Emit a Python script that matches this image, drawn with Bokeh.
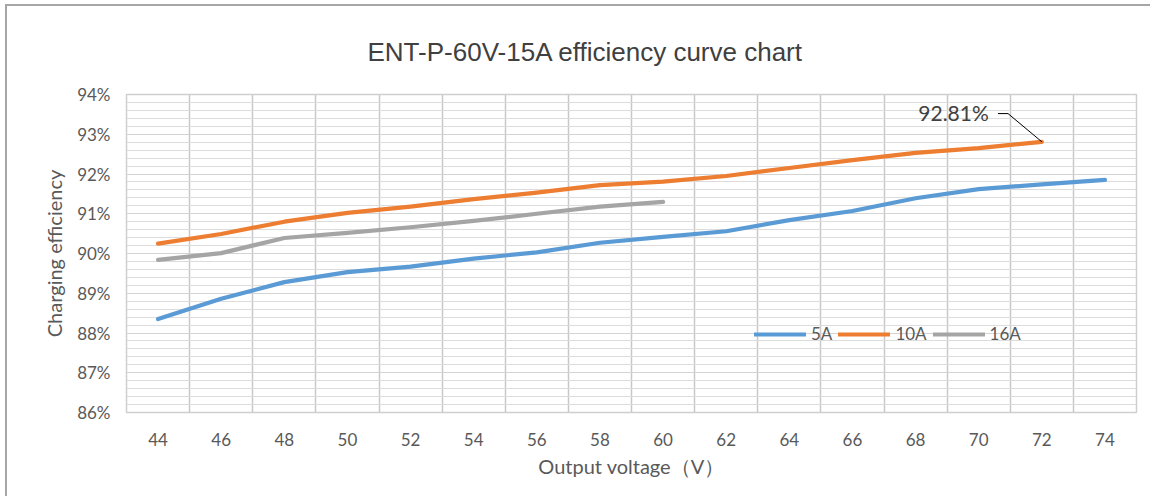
import numpy as np
from bokeh.plotting import figure
from bokeh.models import FixedTicker, Legend, LegendItem, Label, Range1d
from bokeh.embed import file_html
from bokeh.resources import INLINE

# ---------------- data ----------------
volts_5A = [44, 46, 48, 50, 52, 54, 56, 58, 60, 62, 64, 66, 68, 70, 72, 74]
eff_5A = [88.35, 88.86, 89.28, 89.53, 89.67, 89.87, 90.03, 90.27, 90.42, 90.56,
          90.84, 91.07, 91.39, 91.62, 91.74, 91.85]
volts_10A = [44, 46, 48, 50, 52, 54, 56, 58, 60, 62, 64, 66, 68, 70, 72]
eff_10A = [90.25, 90.49, 90.80, 91.02, 91.18, 91.37, 91.53, 91.72, 91.81, 91.95,
           92.15, 92.35, 92.53, 92.65, 92.81]
volts_16A = [44, 46, 48, 50, 52, 54, 56, 58, 60]
eff_16A = [89.84, 90.01, 90.39, 90.52, 90.66, 90.82, 91.00, 91.18, 91.30]

series_names = ["5A", "10A", "16A"]
series_colors = ["#5B9BD5", "#ED7D31", "#A5A5A5"]

x_ticks = list(range(44, 75, 2))
y_ticks = [86, 87, 88, 89, 90, 91, 92, 93, 94]
y_tick_labels = ["86%", "87%", "88%", "89%", "90%", "91%", "92%", "93%", "94%"]

title_text = "ENT-P-60V-15A efficiency curve chart"
x_title = "Output voltage\uff08V\uff09"
y_title = "Charging efficiency"
peak_label = "92.81%"

FONT = "Lato"
TXT = "#595959"

p = figure(width=1145, height=492, output_backend="svg", toolbar_location=None,
           x_range=Range1d(43, 75), y_range=Range1d(86, 94),
           min_border_left=119, min_border_right=16, min_border_top=88,
           min_border_bottom=86)
p.styles = {"border-left": "2px solid #a6a6a6", "border-top": "2px solid #a6a6a6",
            "margin-left": "5px", "margin-top": "4px"}

p.title.text = title_text
p.title.align = "left"
p.title.offset = 241
p.title.text_font = "Liberation Sans"
p.title.text_font_size = "26px"
p.title.text_font_style = "normal"
p.title.text_color = "#404040"
p.title.standoff = 55

p.outline_line_color = "#cfcfcf"
p.outline_line_width = 1.5
p.background_fill_color = "white"
p.border_fill_color = "white"

# x axis
p.xaxis.ticker = FixedTicker(ticks=x_ticks)
p.xaxis.major_tick_line_color = None
p.xaxis.minor_tick_line_color = None
p.xaxis.axis_line_color = "#cfcfcf"
p.xaxis.major_label_text_font = FONT
p.xaxis.major_label_text_font_size = "17px"
p.xaxis.major_label_text_color = TXT
p.xaxis.major_label_standoff = 14
p.xaxis.axis_label = x_title
p.xaxis.axis_label_text_font = FONT
p.xaxis.axis_label_text_font_size = "20px"
p.xaxis.axis_label_text_font_style = "normal"
p.xaxis.axis_label_text_color = TXT
p.xaxis.axis_label_standoff = 5

# y axis
p.yaxis.ticker = FixedTicker(ticks=y_ticks)
p.yaxis.major_label_overrides = {t: l for t, l in zip(y_ticks, y_tick_labels)}
p.yaxis.major_tick_line_color = None
p.yaxis.minor_tick_line_color = None
p.yaxis.axis_line_color = None
p.yaxis.major_label_text_font = FONT
p.yaxis.major_label_text_font_size = "17px"
p.yaxis.major_label_text_color = TXT
p.yaxis.major_label_standoff = 10
p.yaxis.axis_label = y_title
p.yaxis.axis_label_text_font = FONT
p.yaxis.axis_label_text_font_size = "20px"
p.yaxis.axis_label_text_font_style = "normal"
p.yaxis.axis_label_text_color = TXT
p.yaxis.axis_label_standoff = 8

# grids
p.xgrid.ticker = FixedTicker(ticks=[v + 1 for v in x_ticks[:-1]])
p.xgrid.grid_line_color = "#c8c8c8"
p.xgrid.grid_line_width = 1.5
minor = [round(v, 1) for v in np.arange(86.2, 94.0, 0.2)]
p.ygrid.ticker = FixedTicker(ticks=y_ticks, minor_ticks=minor)
p.ygrid.grid_line_color = "#d4d4d4"
p.ygrid.grid_line_width = 1.2
p.ygrid.minor_grid_line_color = "#dcdcdc"
p.ygrid.minor_grid_line_width = 1.2

renderers = []
for xs, ys, c in [(volts_5A, eff_5A, series_colors[0]),
                  (volts_10A, eff_10A, series_colors[1]),
                  (volts_16A, eff_16A, series_colors[2])]:
    r = p.line(xs, ys, line_color=c, line_width=4.2, line_cap="round", line_join="round")
    renderers.append(r)

legend = Legend(items=[LegendItem(label=n, renderers=[r]) for n, r in zip(series_names, renderers)],
                orientation="horizontal", location=(628, 68),
                background_fill_alpha=0, border_line_color=None,
                label_text_font=FONT, label_text_font_size="17px", label_text_color=TXT,
                glyph_width=52, glyph_height=20, label_standoff=5, spacing=6,
                padding=0, margin=0)
p.add_layout(legend, "center")

# peak annotation for 10A
px, py = volts_10A[-1], eff_10A[-1]
p.add_layout(Label(x=px, y=py, text=peak_label, x_offset=-53, y_offset=29,
                   text_align="right", text_baseline="middle",
                   text_font=FONT, text_font_size="21px", text_color="#404040"))
p.line([px - 1.39, px - 1.07, px], [py + 0.71, py + 0.71, py],
       line_color="black", line_width=1)

open("out.html", "w").write(file_html(p, INLINE))
